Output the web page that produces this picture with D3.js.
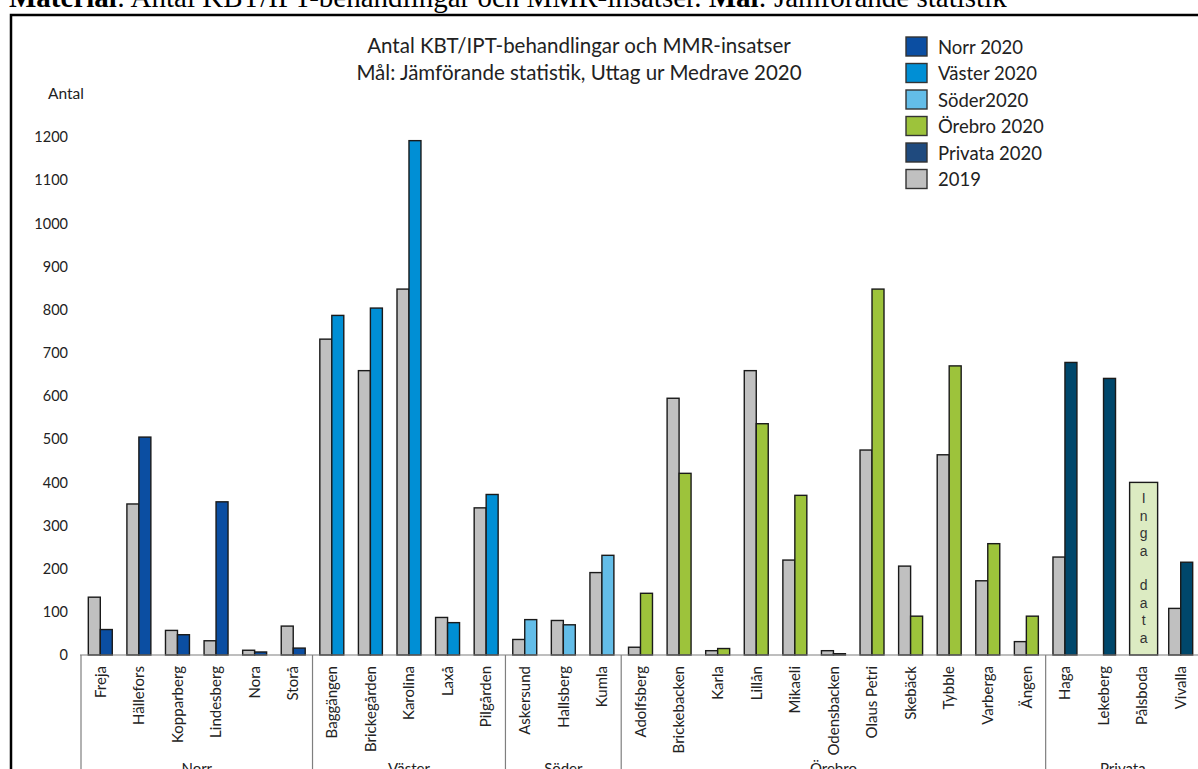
<!DOCTYPE html>
<html>
<head>
<meta charset="utf-8">
<script src="https://cdn.jsdelivr.net/npm/d3@7"></script>
<style>
  html, body { margin: 0; padding: 0; background: #fff; overflow: hidden; }
  svg { display: block; }
</style>
</head>
<body>
<svg id="chart" width="1198" height="769"></svg>
<script>
// Verksamhetsområden och enheter
const groups = ["Norr", "Väster", "Söder", "Örebro", "Privata"];
const units = [
  "Freja", "Hällefors", "Kopparberg", "Lindesberg", "Nora", "Storå",
  "Baggängen", "Brickegården", "Karolina", "Laxå", "Pilgården",
  "Askersund", "Hallsberg", "Kumla",
  "Adolfsberg", "Brickebacken", "Karla", "Lillån", "Mikaeli", "Odensbacken",
  "Olaus Petri", "Skebäck", "Tybble", "Varberga", "Ängen",
  "Haga", "Lekeberg", "Pålsboda", "Vivalla"
];
const unitGroup = [
  "Norr", "Norr", "Norr", "Norr", "Norr", "Norr",
  "Väster", "Väster", "Väster", "Väster", "Väster",
  "Söder", "Söder", "Söder",
  "Örebro", "Örebro", "Örebro", "Örebro", "Örebro", "Örebro",
  "Örebro", "Örebro", "Örebro", "Örebro", "Örebro",
  "Privata", "Privata", "Privata", "Privata"
];
// Antal behandlingar/insatser per enhet (null = saknas)
const values2019 = [
  134, 350, 57, 33, 11, 67,
  732, 659, 848, 87, 341,
  36, 80, 191,
  18, 595, 10, 659, 220, 10, 475, 206, 464, 172, 31,
  227, null, null, 108
];
const values2020 = [
  59, 505, 47, 355, 7, 16,
  787, 804, 1192, 75, 372,
  82, 70, 231,
  143, 421, 15, 536, 370, 3, 848, 90, 670, 258, 90,
  678, 641, null, 215
];
// Enheter utan data markeras med en ruta
const noDataUnits = ["Pålsboda"];
const noDataHeight = [400];
const noDataText = "Inga data";

const yTicks = [0, 100, 200, 300, 400, 500, 600, 700, 800, 900, 1000, 1100, 1200];
const legendLabels = ["Norr 2020", "Väster 2020", "Söder2020", "Örebro 2020", "Privata 2020", "2019"];

const titleLines = [
  "Antal KBT/IPT-behandlingar och MMR-insatser",
  "Mål: Jämförande statistik, Uttag ur Medrave 2020"
];

// Färger
const groupColor = {
  "Norr": "#0b4ea2",
  "Väster": "#008fd5",
  "Söder": "#63bde8",
  "Örebro": "#9dc33b",
  "Privata": "#00476b"
};
const legendColors = ["#0b4ea2", "#008fd5", "#63bde8", "#9dc33b", "#1f4a7e", "#c0c0c0"];
const color2019 = "#c0c0c0";
const fontSans = "Lato, 'Open Sans', sans-serif";

const svg = d3.select("#chart");

// Rubrik ovanför diagramramen
const header = svg.append("text")
  .attr("x", 9).attr("y", 7)
  .attr("font-family", "'Liberation Serif', 'Times New Roman', serif")
  .attr("font-size", 29)
  .attr("fill", "#000");
header.append("tspan").attr("font-weight", "bold").text("Material");
header.append("tspan").text(": Antal KBT/IPT-behandlingar och MMR-insatser. ");
header.append("tspan").attr("font-weight", "bold").text("Mål");
header.append("tspan").text(": Jämförande statistik");

// Diagramram
svg.append("rect")
  .attr("x", 11).attr("y", 15)
  .attr("width", 1250).attr("height", 900)
  .attr("fill", "none")
  .attr("stroke", "#000")
  .attr("stroke-width", 2.5);

// Skalor
const x = d3.scaleBand().domain(units).range([81, 1200]).paddingInner(0).paddingOuter(0);
const xInner = d3.scaleBand().domain(["2019", "2020"]).range([0, x.bandwidth()]).paddingInner(0).paddingOuter(0.61);
const y = d3.scaleLinear().domain([0, 1200]).range([655, 137.2]);

// Diagramtitel
svg.append("g").selectAll("text")
  .data(titleLines)
  .join("text")
  .attr("x", 579)
  .attr("y", (d, i) => 53 + i * 27)
  .attr("text-anchor", "middle")
  .attr("font-family", fontSans)
  .attr("font-size", 20.5)
  .attr("fill", "#222")
  .text(d => d);

// Y-axel (endast etiketter)
const yAxis = svg.append("g")
  .attr("transform", "translate(80,0)")
  .call(d3.axisLeft(y).tickValues(yTicks).tickSize(0).tickPadding(12).tickFormat(d3.format("d")));
yAxis.select(".domain").remove();
yAxis.selectAll("text")
  .attr("font-family", fontSans)
  .attr("font-size", 14.5)
  .attr("fill", "#222");

svg.append("text")
  .attr("x", 66).attr("y", 99)
  .attr("text-anchor", "middle")
  .attr("font-family", fontSans)
  .attr("font-size", 15.5)
  .attr("fill", "#222")
  .text("Antal");

// Staplar
const rows = units.map((u, i) => ({ unit: u, group: unitGroup[i], v19: values2019[i], v20: values2020[i] }));
const barG = svg.append("g");
const barStroke = "#1a1a1a";

barG.selectAll("rect.y2019")
  .data(rows.filter(d => d.v19 != null))
  .join("rect")
  .attr("class", "y2019")
  .attr("x", d => x(d.unit) + xInner("2019"))
  .attr("width", xInner.bandwidth())
  .attr("y", d => y(d.v19))
  .attr("height", d => y(0) - y(d.v19))
  .attr("fill", color2019)
  .attr("stroke", barStroke)
  .attr("stroke-width", 1.4);

barG.selectAll("rect.y2020")
  .data(rows.filter(d => d.v20 != null))
  .join("rect")
  .attr("class", "y2020")
  .attr("x", d => x(d.unit) + xInner("2020"))
  .attr("width", xInner.bandwidth())
  .attr("y", d => y(d.v20))
  .attr("height", d => y(0) - y(d.v20))
  .attr("fill", d => groupColor[d.group])
  .attr("stroke", barStroke)
  .attr("stroke-width", 1.4);

// Ruta för enhet utan data
const nd = noDataUnits.map((u, i) => ({ unit: u, h: noDataHeight[i] }));
const ndW = 28;
const ndG = barG.selectAll("g.nodata").data(nd).join("g").attr("class", "nodata");
ndG.append("rect")
  .attr("x", d => x(d.unit) + x.bandwidth() / 2 - ndW / 2 + 1.5)
  .attr("width", ndW)
  .attr("y", d => y(d.h))
  .attr("height", d => y(0) - y(d.h))
  .attr("fill", "#dcebc2")
  .attr("stroke", barStroke)
  .attr("stroke-width", 1.4);
ndG.each(function(d) {
  const g = d3.select(this);
  const letters = noDataText.split("");
  g.selectAll("text")
    .data(letters)
    .join("text")
    .attr("x", x(d.unit) + x.bandwidth() / 2 + 1.5)
    .attr("y", (c, i) => y(d.h) + 21 + i * 17.4)
    .attr("text-anchor", "middle")
    .attr("font-family", "'Liberation Sans', Arial, sans-serif")
    .attr("font-size", 14)
    .attr("fill", "#333")
    .text(c => c);
});

// X-axel med roterade enhetsnamn
const xAxis = svg.append("g")
  .attr("transform", "translate(0,655)")
  .call(d3.axisBottom(x).tickSize(0).tickPadding(0));
xAxis.select(".domain")
  .attr("stroke", "#7f7f7f")
  .attr("stroke-width", 1.2)
  .attr("d", `M${x.range()[0] - 1},0H${x.range()[1]}`);
xAxis.selectAll("text")
  .attr("font-family", fontSans)
  .attr("font-size", 15)
  .attr("fill", "#222")
  .attr("transform", "rotate(-90)")
  .attr("x", -11)
  .attr("y", 0)
  .attr("dy", "0.35em")
  .style("text-anchor", "end");

// Gruppavgränsare och gruppnamn
const groupInfo = groups.map(g => {
  const members = units.filter((u, i) => unitGroup[i] === g);
  const start = x(members[0]);
  const end = x(members[members.length - 1]) + x.bandwidth();
  return { name: g, start, end };
});
const sepX = [groupInfo[0].start].concat(groupInfo.slice(0, -1).map(d => d.end));
svg.append("g").selectAll("line")
  .data(sepX)
  .join("line")
  .attr("x1", d => d).attr("x2", d => d)
  .attr("y1", 655).attr("y2", 800)
  .attr("stroke", "#7f7f7f")
  .attr("stroke-width", 1.2);
svg.append("g").selectAll("text")
  .data(groupInfo)
  .join("text")
  .attr("x", d => (d.start + d.end) / 2)
  .attr("y", 774)
  .attr("text-anchor", "middle")
  .attr("font-family", fontSans)
  .attr("font-size", 15)
  .attr("fill", "#222")
  .text(d => d.name);

// Teckenförklaring
const legend = svg.append("g").attr("transform", "translate(906,37)");
const li = legend.selectAll("g").data(legendLabels).join("g")
  .attr("transform", (d, i) => `translate(0,${i * 26.5})`);
li.append("rect")
  .attr("width", 21).attr("height", 19)
  .attr("fill", (d, i) => legendColors[i])
  .attr("stroke", "#333")
  .attr("stroke-width", 1.4);
li.append("text")
  .attr("x", 32).attr("y", 10)
  .attr("dy", "0.36em")
  .attr("font-family", fontSans)
  .attr("font-size", 18.5)
  .attr("fill", "#222")
  .text(d => d);
</script>
</body>
</html>
